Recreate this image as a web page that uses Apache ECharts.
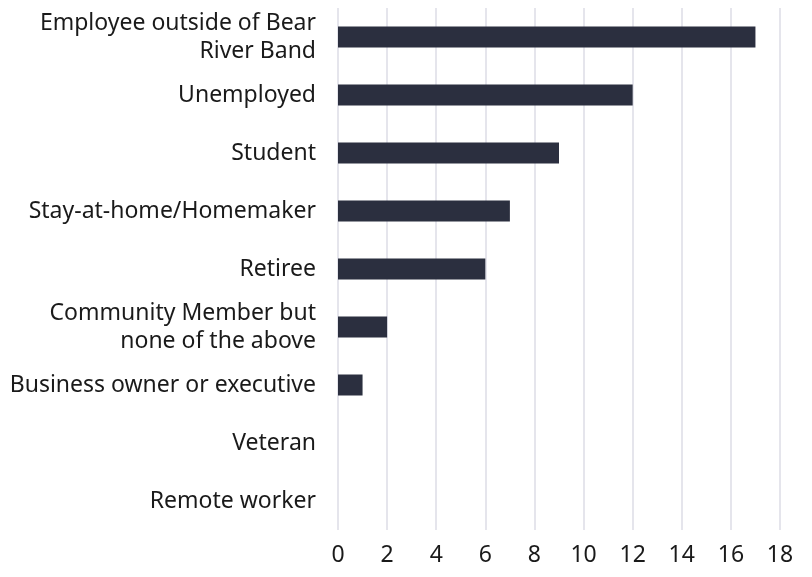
<!DOCTYPE html>
<html>
<head>
<meta charset="utf-8">
<script src="https://cdn.jsdelivr.net/npm/echarts@6/dist/echarts.min.js"></script>
<style>
  html, body { margin: 0; padding: 0; background: #fff; }
  #main { width: 812px; height: 577px; }
</style>
</head>
<body>
<div id="main"></div>
<script>
// categories, top to bottom
var categories = [
  "Employee outside of Bear\nRiver Band",
  "Unemployed",
  "Student",
  "Stay-at-home/Homemaker",
  "Retiree",
  "Community Member but\nnone of the above",
  "Business owner or executive",
  "Veteran",
  "Remote worker"
];
var counts = [17, 12, 9, 7, 6, 2, 1, 0, 0];
var xTicks = { min: 0, max: 18, interval: 2 };

var myChart = echarts.init(document.getElementById("main"));
var option = {
  animation: false,
  textStyle: { fontFamily: "Noto Sans" },
  grid: { left: 338, right: 32, top: 8, bottom: 47, containLabel: false },
  xAxis: {
    type: "value",
    min: xTicks.min,
    max: xTicks.max,
    interval: xTicks.interval,
    axisLine: { show: false },
    axisTick: { show: false },
    axisLabel: { fontSize: 23, color: "#1a1a1a", margin: 14 },
    splitLine: { show: true, lineStyle: { color: "#dcdce6", width: 1.5 } }
  },
  yAxis: {
    type: "category",
    data: categories,
    inverse: true,
    axisLine: { show: false },
    axisTick: { show: false },
    axisLabel: { fontSize: 23, color: "#1a1a1a", margin: 22, lineHeight: 28, align: "right" }
  },
  series: [
    {
      type: "bar",
      data: counts,
      barWidth: 21,
      itemStyle: { color: "#2b2f3f" }
    }
  ]
};
option && myChart.setOption(option);
</script>
</body>
</html>
